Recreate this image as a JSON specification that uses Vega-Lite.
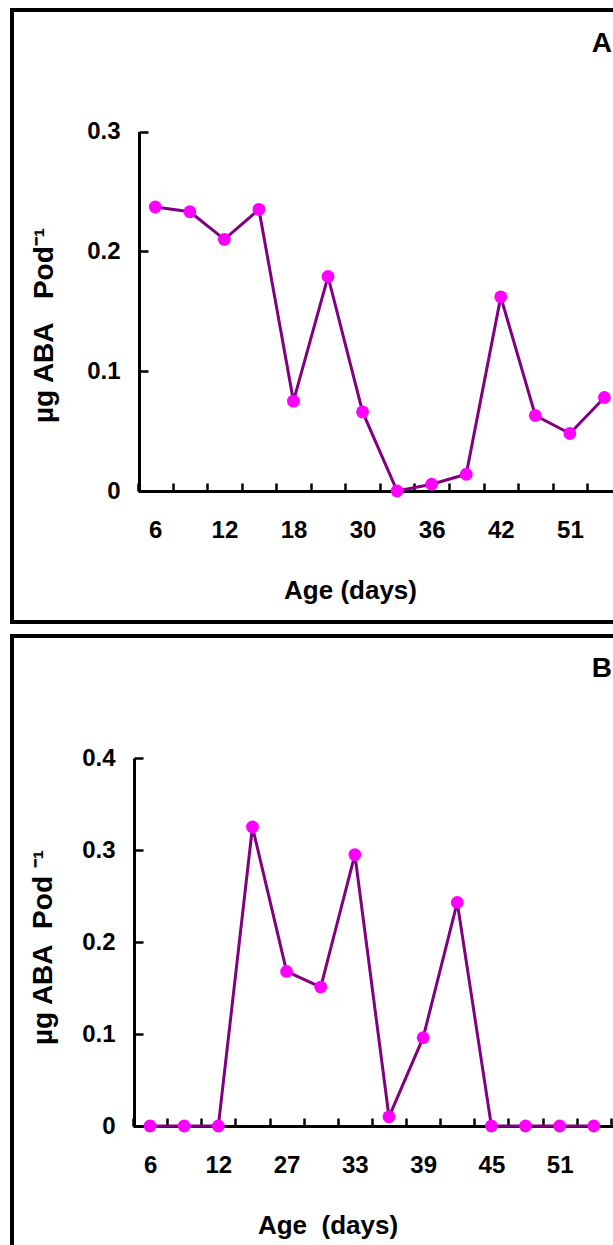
{
  "$schema": "https://vega.github.io/schema/vega-lite/v6.json",
  "padding": {"left": 10, "top": 8, "right": 0, "bottom": 0},
  "background": "white",
  "spacing": 10,
  "datasets": {
    "a": [
      {"age": 6, "aba": 0.237},
      {"age": 9, "aba": 0.233},
      {"age": 12, "aba": 0.21},
      {"age": 15, "aba": 0.235},
      {"age": 18, "aba": 0.075},
      {"age": 24, "aba": 0.179},
      {"age": 30, "aba": 0.066},
      {"age": 33, "aba": 0.0},
      {"age": 36, "aba": 0.0056},
      {"age": 39, "aba": 0.014},
      {"age": 42, "aba": 0.162},
      {"age": 45, "aba": 0.063},
      {"age": 51, "aba": 0.048},
      {"age": 54, "aba": 0.078}
    ],
    "b": [
      {"age": 6, "aba": 0.0},
      {"age": 9, "aba": 0.0},
      {"age": 12, "aba": 0.0},
      {"age": 24, "aba": 0.325},
      {"age": 27, "aba": 0.168},
      {"age": 30, "aba": 0.151},
      {"age": 33, "aba": 0.295},
      {"age": 36, "aba": 0.01},
      {"age": 39, "aba": 0.096},
      {"age": 42, "aba": 0.243},
      {"age": 45, "aba": 0.0},
      {"age": 48, "aba": 0.0},
      {"age": 51, "aba": 0.0},
      {"age": 54, "aba": 0.0}
    ]
  },
  "vconcat": [
    {
      "width": 620,
      "height": 612,
      "data": {"name": "a"},
      "title": {"text": "A", "anchor": "end", "frame": "group", "orient": "top", "fontSize": 28, "fontWeight": "bold", "baseline": "alphabetic", "offset": -70, "dx": -20},
      "encoding": {
        "x": {
          "field": "age", "type": "ordinal",
          "scale": {"type": "band", "paddingInner": 0, "paddingOuter": 0, "range": [126, 609.7]},
          "axis": {
            "title": "Age (days)", "titleX": 338, "titleY": 107, "titleBaseline": "alphabetic",
            "offset": -131, "tickSize": -8, "labelPadding": 54, "labelBaseline": "alphabetic",
            "labelAngle": 0, "tickBand": "extent",
            "labelExpr": "indexof(['6','12','18','30','36','42','51'], datum.label) >= 0 ? datum.label : ''"
          }
        },
        "y": {
          "field": "aba", "type": "quantitative",
          "scale": {"domain": [0, 0.3], "nice": false, "zero": true, "range": [481, 121.5]},
          "axis": {
            "title": "µg ABA\u00a0\u00a0\u00a0Pod⁻¹", "titleX": -86.5, "titleY": 315, "titleAngle": -90,
            "titleBaseline": "alphabetic", "titleAlign": "center", "titleFontSize": 28,
            "offset": -127, "tickSize": -9, "labelPadding": 28, "values": [0, 0.1, 0.2, 0.3],
            "labelExpr": "datum.value == 0 ? '0' : format(datum.value, '.1f')"
          }
        }
      },
      "layer": [
        {"mark": {"type": "line", "color": "#800080", "strokeWidth": 3}},
        {"mark": {"type": "point", "filled": true, "color": "#FF00FF", "size": 165, "opacity": 1}}
      ]
    },
    {
      "width": 620,
      "height": 620,
      "data": {"name": "b"},
      "title": {"text": "B", "anchor": "end", "frame": "group", "orient": "top", "fontSize": 28, "fontWeight": "bold", "baseline": "alphabetic", "offset": -69, "dx": -20},
      "encoding": {
        "x": {
          "field": "age", "type": "ordinal",
          "scale": {"type": "band", "paddingInner": 0, "paddingOuter": 0, "range": [121, 633],
                    "domain": [6, 9, 12, 24, 27, 30, 33, 36, 39, 42, 45, 48, 51, 54, 57]},
          "axis": {
            "title": "Age\u00a0 (days)", "titleX": 315.5, "titleY": 107, "titleBaseline": "alphabetic",
            "offset": -130, "tickSize": -8, "labelPadding": 54, "labelBaseline": "alphabetic",
            "labelAngle": 0, "tickBand": "extent",
            "labelExpr": "indexof(['6','12','27','33','39','45','51'], datum.label) >= 0 ? datum.label : ''"
          }
        },
        "y": {
          "field": "aba", "type": "quantitative",
          "scale": {"domain": [0, 0.4], "nice": false, "zero": true, "range": [490, 122]},
          "axis": {
            "title": "µg ABA\u00a0\u00a0Pod\u00a0⁻¹", "titleX": -83, "titleY": 311, "titleAngle": -90,
            "titleBaseline": "alphabetic", "titleAlign": "center", "titleFontSize": 28,
            "offset": -122, "tickSize": -9, "labelPadding": 28, "values": [0, 0.1, 0.2, 0.3, 0.4],
            "labelExpr": "datum.value == 0 ? '0' : format(datum.value, '.1f')"
          }
        }
      },
      "layer": [
        {"mark": {"type": "line", "color": "#800080", "strokeWidth": 3}},
        {"mark": {"type": "point", "filled": true, "color": "#FF00FF", "size": 165, "opacity": 1}}
      ]
    }
  ],
  "config": {
    "font": "Liberation Sans",
    "view": {"stroke": "black", "strokeWidth": 4},
    "axis": {
      "domainColor": "black", "domainWidth": 3, "tickColor": "black", "tickWidth": 2.5,
      "labelFont": "Liberation Sans", "labelFontSize": 24, "labelFontWeight": "bold", "labelColor": "black",
      "titleFont": "Liberation Sans", "titleFontSize": 26, "titleFontWeight": "bold", "titleColor": "black",
      "grid": false, "labelOverlap": false, "labelFlush": false
    },
    "axisY": {"labelAlign": "right", "labelBaseline": "middle"}
  }
}
